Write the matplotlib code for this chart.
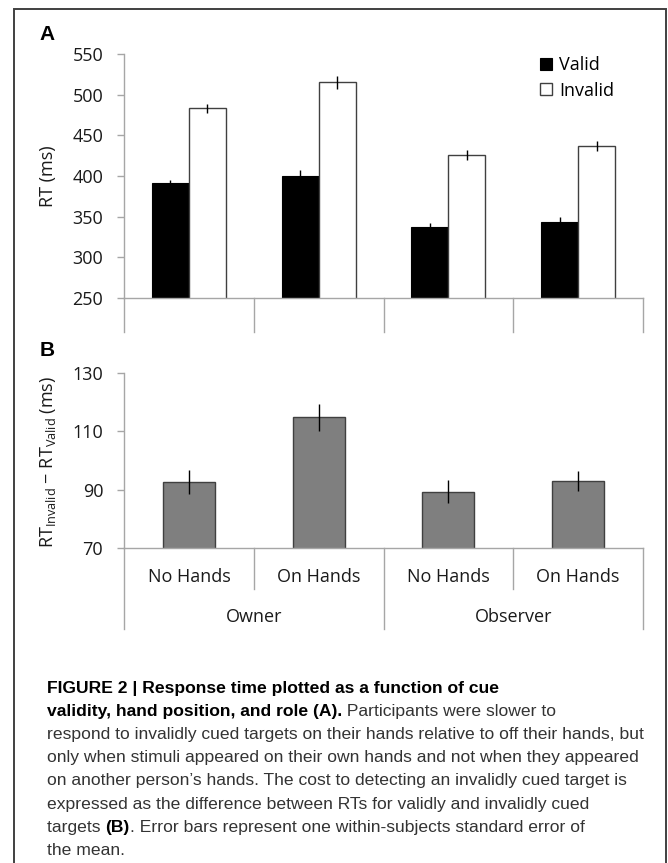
import matplotlib
matplotlib.use('Agg')
import matplotlib.pyplot as plt
from matplotlib.patches import Rectangle
import matplotlib.transforms as mtransforms

# dados
categorias = ['No Hands', 'On Hands', 'No Hands', 'On Hands']
grupos = ['Owner', 'Observer']
rt_valid = [391, 400, 337, 344]
rt_valid_err = [4, 7, 5, 5]
rt_invalid = [483, 515, 426, 437]
rt_invalid_err = [6, 8, 6, 6]
custo = [92.5, 114.8, 89.3, 92.9]
custo_err = [4.1, 4.7, 3.9, 3.5]

legenda = ['Valid', 'Invalid']

legenda_texto = [
    [('FIGURE 2 | Response time plotted as a function of cue', 'bold')],
    [('validity, hand position, and role (A).', 'bold'), (' Participants were slower to', 'normal')],
    [('respond to invalidly cued targets on their hands relative to off their hands, but', 'normal')],
    [('only when stimuli appeared on their own hands and not when they appeared', 'normal')],
    [('on another person\u2019s hands. The cost to detecting an invalidly cued target is', 'normal')],
    [('expressed as the difference between RTs for validly and invalidly cued', 'normal')],
    [('targets ', 'normal'), ('(B)', 'bold'), ('. Error bars represent one within-subjects standard error of', 'normal')],
    [('the mean.', 'normal')],
]

plt.rcParams['font.family'] = ['Open Sans', 'DejaVu Sans']
plt.rcParams['mathtext.fontset'] = 'custom'
plt.rcParams['mathtext.rm'] = 'Open Sans'
plt.rcParams['mathtext.it'] = 'Open Sans'

W, H = 668, 863
fig = plt.figure(figsize=(W / 100, H / 100), dpi=100)

cinza = '#a6a6a6'
cor_texto = '#1a1a1a'
fs = 13


def eixo(px_left, px_top, px_right, px_bottom):
    ax = fig.add_axes([px_left / W, 1 - px_bottom / H, (px_right - px_left) / W, (px_bottom - px_top) / H])
    for lado in ['top', 'right']:
        ax.spines[lado].set_visible(False)
    for lado in ['left', 'bottom']:
        ax.spines[lado].set_color(cinza)
        ax.spines[lado].set_linewidth(1)
    ax.tick_params(axis='y', direction='out', length=5, width=1, color=cinza, pad=10,
                   labelsize=fs, labelcolor=cor_texto)
    ax.tick_params(axis='x', length=0, labelbottom=False)
    ax.set_xlim(-0.5, len(categorias) - 0.5)
    return ax


def separadores(ax, posicoes, ate):
    trans = mtransforms.blended_transform_factory(ax.transData, ax.transAxes)
    for p in posicoes:
        ax.plot([p, p], [0, ate], color=cinza, lw=1, transform=trans, clip_on=False)


x = list(range(len(categorias)))

# Painel A
axA = eixo(124, 54, 643, 298)
larg = 0.285
xv = [i - larg / 2 for i in x]
xi = [i + larg / 2 for i in x]
axA.bar(xv, rt_valid, width=larg, color='black', edgecolor='black', lw=0.8, label=legenda[0])
axA.bar(xi, rt_invalid, width=larg, color='white', edgecolor='#404040', lw=1, label=legenda[1])
axA.errorbar(xv, rt_valid, yerr=rt_valid_err, fmt='none', ecolor='black', elinewidth=1, capsize=0)
axA.errorbar(xi, rt_invalid, yerr=rt_invalid_err, fmt='none', ecolor='black', elinewidth=1, capsize=0)
axA.set_ylim(250, 550)
axA.set_yticks(range(250, 551, 50))
separadores(axA, [-0.5, 0.5, 1.5, 2.5, 3.5], -34 / 244)
axA.legend(loc='upper left', bbox_to_anchor=(0.802, 0.99), frameon=False, fontsize=fs,
           handlelength=0.65, handleheight=0.65, handletextpad=0.4, labelspacing=0.4,
           borderpad=0, borderaxespad=0)

# Painel B
axB = eixo(124, 373, 643, 548)
axB.bar(x, custo, width=0.4, color='#7f7f7f', edgecolor='#404040', lw=1)
axB.errorbar(x, custo, yerr=custo_err, fmt='none', ecolor='black', elinewidth=1, capsize=0)
axB.set_ylim(70, 130)
axB.set_yticks(range(70, 131, 20))
separadores(axB, [0.5, 2.5], -41 / 175)
separadores(axB, [-0.5, 1.5, 3.5], -81 / 175)
transB = mtransforms.blended_transform_factory(axB.transData, axB.transAxes)
for i, c in enumerate(categorias):
    axB.text(i, -29 / 175, c, transform=transB, ha='center', va='center', fontsize=fs, color=cor_texto)
for j, g in enumerate(grupos):
    axB.text(2 * j + 0.5, -69 / 175, g, transform=transB, ha='center', va='center', fontsize=fs, color=cor_texto)

# rótulos dos eixos e letras dos painéis
fig.text(48 / W, 1 - 176 / H, 'RT (ms)', rotation=90, ha='center', va='center', fontsize=fs, color=cor_texto)
fig.text(48 / W, 1 - 462 / H, 'RT$_{\\mathrm{Invalid}}$ \u2212 RT$_{\\mathrm{Valid}}$ (ms)',
         rotation=90, ha='center', va='center', fontsize=fs, color=cor_texto)
fig.text(47 / W, 1 - 34 / H, 'A', ha='center', va='center', fontsize=15, fontweight='bold',
         family=['Liberation Sans'], color='black')
fig.text(47 / W, 1 - 350 / H, 'B', ha='center', va='center', fontsize=15, fontweight='bold',
         family=['Liberation Sans'], color='black')

# moldura
fig.patches.append(Rectangle((14 / W, -0.02), (666 - 14) / W, 1 - 9 / H + 0.02, transform=fig.transFigure,
                             fill=False, edgecolor='#404040', lw=1.4))

# legenda da figura
renderer = fig.canvas.get_renderer()
y0 = 693
passo = 23.1
for n, linha in enumerate(legenda_texto):
    xpos = 47
    for texto, peso in linha:
        t = fig.text(xpos / W, 1 - (y0 + n * passo) / H, texto, ha='left', va='baseline',
                     fontsize=12.6, fontweight=peso, family=['Liberation Sans'],
                     color='black' if peso == 'bold' else '#333333')
        xpos = t.get_window_extent(renderer).x1

fig.savefig('out.png', dpi=100)
